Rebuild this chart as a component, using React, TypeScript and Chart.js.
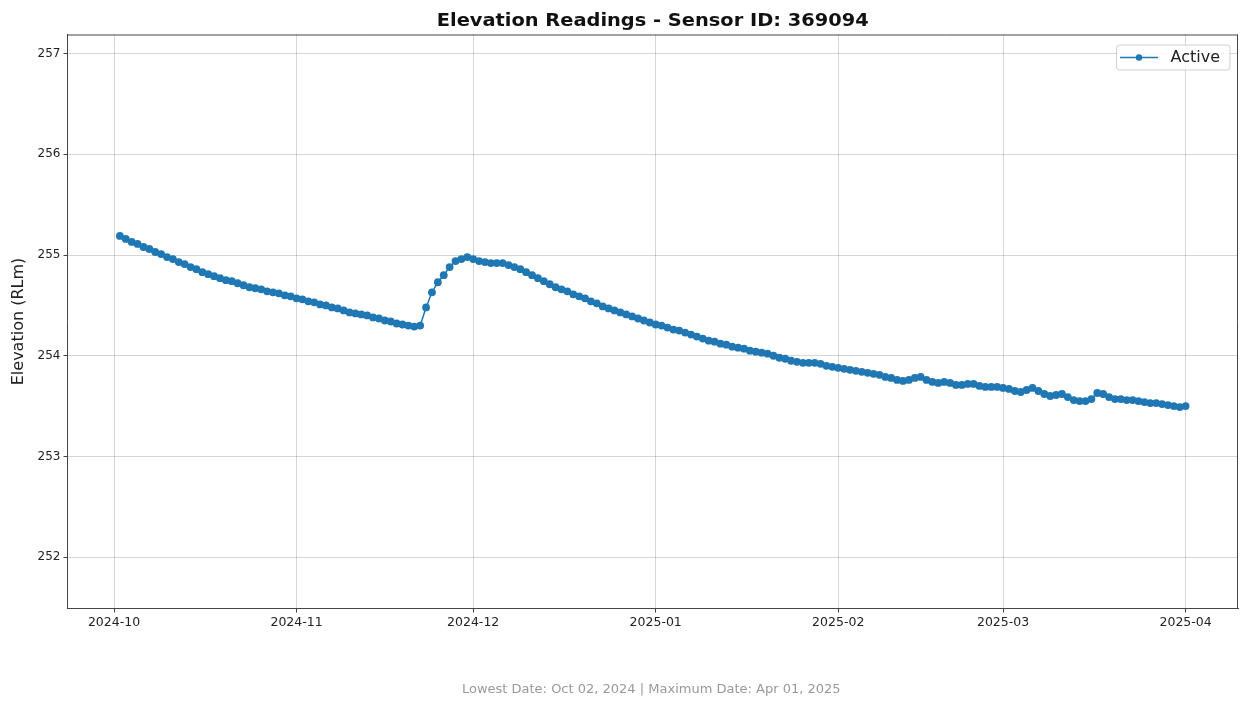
import React, { useEffect, useRef } from "react";
import { Chart, registerables } from "chart.js";

Chart.register(...registerables);

const TITLE = "Elevation Readings - Sensor ID: 369094";
const Y_LABEL = "Elevation (RLm)";
const FOOTER = "Lowest Date: Oct 02, 2024 | Maximum Date: Apr 01, 2025";
const SERIES_NAME = "Active";

// first reading date (UTC), one reading per day
const START_DATE = "2024-10-02";

// daily elevation readings, Oct 02 2024 .. Apr 01 2025
const elevations = [
  255.19, 255.16, 255.13, 255.11, 255.08, 255.06, 255.03, 255.01, 254.98, 254.96,
  254.93, 254.91, 254.88, 254.86, 254.83, 254.81, 254.79, 254.77, 254.75, 254.74,
  254.72, 254.70, 254.68, 254.67, 254.66, 254.64, 254.63, 254.62, 254.60, 254.59,
  254.57, 254.56, 254.54, 254.53, 254.51, 254.50, 254.48, 254.47, 254.45, 254.43,
  254.42, 254.41, 254.40, 254.38, 254.37, 254.35, 254.34, 254.32, 254.31, 254.30,
  254.29, 254.30, 254.48, 254.63, 254.73, 254.80, 254.88, 254.94, 254.96, 254.98,
  254.96, 254.94, 254.93, 254.92, 254.92, 254.92, 254.90, 254.88, 254.86, 254.83,
  254.80, 254.77, 254.74, 254.71, 254.68, 254.66, 254.64, 254.61, 254.59, 254.57,
  254.54, 254.52, 254.49, 254.47, 254.45, 254.43, 254.41, 254.39, 254.37, 254.35,
  254.33, 254.31, 254.30, 254.28, 254.26, 254.25, 254.23, 254.21, 254.19, 254.17,
  254.15, 254.14, 254.12, 254.11, 254.09, 254.08, 254.07, 254.05, 254.04, 254.03,
  254.02, 254.00, 253.98, 253.97, 253.95, 253.94, 253.93, 253.93, 253.93, 253.92,
  253.90, 253.89, 253.88, 253.87, 253.86, 253.85, 253.84, 253.83, 253.82, 253.81,
  253.79, 253.78, 253.76, 253.75, 253.76, 253.78, 253.79, 253.76, 253.74, 253.73,
  253.74, 253.73, 253.71, 253.71, 253.72, 253.72, 253.70, 253.69, 253.69, 253.69,
  253.68, 253.67, 253.65, 253.64, 253.66, 253.68, 253.65, 253.62, 253.60, 253.61,
  253.62, 253.59, 253.56, 253.55, 253.55, 253.57, 253.63, 253.62, 253.59, 253.57,
  253.57, 253.56, 253.56, 253.55, 253.54, 253.53, 253.53, 253.52, 253.51, 253.50,
  253.49, 253.50,
];

const monthTickDates = ["2024-10-01", "2024-11-01", "2024-12-01", "2025-01-01", "2025-02-01", "2025-03-01", "2025-04-01"];
const monthTickLabels = ["2024-10", "2024-11", "2024-12", "2025-01", "2025-02", "2025-03", "2025-04"];
const yTicks = [252, 253, 254, 255, 256, 257];

const DAY = 86400000;
const BLUE = "#1f77b4";
const FONT = "'DejaVu Sans', 'Liberation Sans', sans-serif";

export default function App() {
  const ref = useRef<HTMLCanvasElement | null>(null);

  useEffect(() => {
    const canvas = ref.current;
    if (!canvas) return;
    const start = Date.parse(START_DATE + "T00:00:00Z");
    const points = elevations.map((v, i) => ({ x: start + i * DAY, y: v }));
    const xFirst = points[0].x;
    const xLast = points[points.length - 1].x;
    const margin = 8.9 * DAY;
    const yMin = Math.min(...elevations) - 2;
    const yMax = Math.max(...elevations) + 2;
    const tickVals = monthTickDates.map((d) => Date.parse(d + "T00:00:00Z"));

    const decor = {
      id: "decor",
      afterDraw(chart: any) {
        const { ctx, chartArea } = chart;
        const { left, right, top, bottom } = chartArea;
        ctx.save();
        // frame (top/right spines)
        ctx.strokeStyle = "#444";
        ctx.lineWidth = 1;
        ctx.beginPath();
        ctx.moveTo(left, top + 0.5);
        ctx.lineTo(right, top + 0.5);
        ctx.moveTo(right - 0.5, top);
        ctx.lineTo(right - 0.5, bottom);
        ctx.stroke();

        // title
        ctx.fillStyle = "#111";
        ctx.font = `bold 17px ${FONT}`;
        ctx.textAlign = "center";
        ctx.textBaseline = "alphabetic";
        const tw = ctx.measureText(TITLE).width;
        const cx = (left + right) / 2;
        ctx.save();
        ctx.translate(cx, 26);
        ctx.scale(432 / tw, 1);
        ctx.fillText(TITLE, 0, 0);
        ctx.restore();

        // y-axis label
        ctx.save();
        ctx.translate(18.5, (top + bottom) / 2);
        ctx.rotate(-Math.PI / 2);
        ctx.font = `16px ${FONT}`;
        ctx.fillStyle = "#222";
        ctx.textAlign = "center";
        ctx.textBaseline = "middle";
        ctx.fillText(Y_LABEL, 0, 0);
        ctx.restore();

        // footer
        ctx.font = `13px ${FONT}`;
        ctx.fillStyle = "#999";
        ctx.textAlign = "center";
        ctx.textBaseline = "middle";
        ctx.fillText(FOOTER, cx - 1.5, 690);

        // legend
        const bx = 1116.5, by = 45, bw = 113.5, bh = 25;
        ctx.beginPath();
        const r = 3;
        ctx.moveTo(bx + r, by);
        ctx.lineTo(bx + bw - r, by);
        ctx.arcTo(bx + bw, by, bx + bw, by + r, r);
        ctx.lineTo(bx + bw, by + bh - r);
        ctx.arcTo(bx + bw, by + bh, bx + bw - r, by + bh, r);
        ctx.lineTo(bx + r, by + bh);
        ctx.arcTo(bx, by + bh, bx, by + bh - r, r);
        ctx.lineTo(bx, by + r);
        ctx.arcTo(bx, by, bx + r, by, r);
        ctx.closePath();
        ctx.fillStyle = "rgba(255,255,255,0.85)";
        ctx.fill();
        ctx.strokeStyle = "#d0d0d0";
        ctx.stroke();
        const ly = by + bh / 2;
        ctx.strokeStyle = BLUE;
        ctx.lineWidth = 1.5;
        ctx.beginPath();
        ctx.moveTo(1120, ly);
        ctx.lineTo(1158, ly);
        ctx.stroke();
        ctx.fillStyle = BLUE;
        ctx.beginPath();
        ctx.arc(1139, ly, 3.2, 0, Math.PI * 2);
        ctx.fill();
        ctx.font = `16px ${FONT}`;
        ctx.fillStyle = "#222";
        ctx.textAlign = "left";
        ctx.textBaseline = "middle";
        ctx.fillText(SERIES_NAME, 1170.5, ly);
        ctx.restore();
      },
    };

    const chart = new Chart(canvas, {
      type: "line",
      data: {
        datasets: [
          {
            label: SERIES_NAME,
            data: points,
            borderColor: BLUE,
            backgroundColor: BLUE,
            borderWidth: 1.5,
            pointRadius: 3.9,
            pointBorderWidth: 0,
            pointBackgroundColor: BLUE,
            tension: 0,
            fill: false,
          },
        ],
      },
      options: {
        responsive: false,
        animation: false,
        devicePixelRatio: 1,
        layout: { padding: { left: 0, top: 34.5, right: 3, bottom: 0 } },
        plugins: {
          legend: { display: false },
          title: { display: false },
          tooltip: { enabled: false },
        },
        scales: {
          x: {
            type: "linear",
            min: xFirst - margin,
            max: xLast + margin,
            afterBuildTicks: (scale: any) => {
              scale.ticks = tickVals.map((v) => ({ value: v }));
            },
            afterFit: (scale: any) => {
              scale.height = 93.5;
            },
            ticks: {
              autoSkip: false,
              maxRotation: 0,
              padding: 3,
              color: "#222",
              font: { family: FONT, size: 12.5 },
              callback: (_v: any, i: number) => monthTickLabels[i],
            },
            grid: {
              color: "rgba(0,0,0,0.16)",
              lineWidth: 1,
              tickLength: 4,
              tickColor: "#444",
            },
            border: { display: true, color: "#444", width: 1 },
          },
          y: {
            type: "linear",
            min: yMin,
            max: yMax,
            afterBuildTicks: (scale: any) => {
              scale.ticks = yTicks.map((v) => ({ value: v }));
            },
            afterFit: (scale: any) => {
              scale.width = 67.5;
            },
            ticks: {
              padding: 3,
              color: "#222",
              font: { family: FONT, size: 12 },
              callback: (v: any) => String(v),
            },
            grid: {
              color: "rgba(0,0,0,0.16)",
              lineWidth: 1,
              tickLength: 4,
              tickColor: "#444",
            },
            border: { display: true, color: "#444", width: 1 },
          },
        },
      },
      plugins: [decor],
    } as any);

    return () => chart.destroy();
  }, []);

  return (
    <div style={{ position: "fixed", left: 0, top: 0, width: 1242, height: 702, background: "#fff" }}>
      <canvas ref={ref} width={1242} height={702} style={{ display: "block", width: 1242, height: 702 }} />
    </div>
  );
}
